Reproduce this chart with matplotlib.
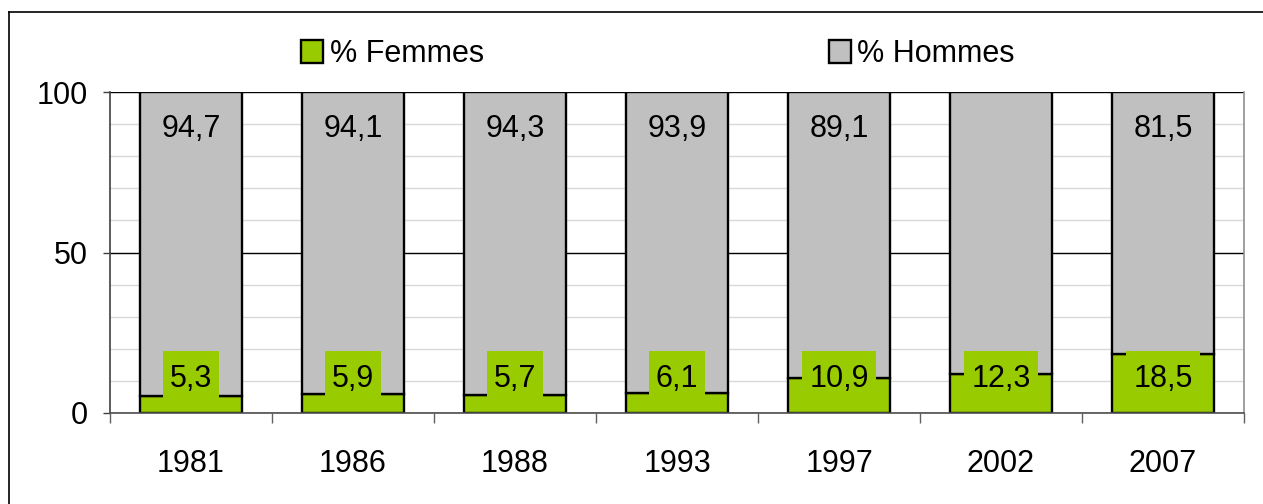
import numpy as np
import matplotlib
matplotlib.use("Agg")
import matplotlib.pyplot as plt
from matplotlib.lines import Line2D
from matplotlib.patches import Rectangle

# données
annees = ["1981", "1986", "1988", "1993", "1997", "2002", "2007"]
femmes = [5.3, 5.9, 5.7, 6.1, 10.9, 12.3, 18.5]
hommes = [94.7, 94.1, 94.3, 93.9, 89.1, 87.7, 81.5]
lab_femmes = ["5,3", "5,9", "5,7", "6,1", "10,9", "12,3", "18,5"]
lab_hommes = ["94,7", "94,1", "94,3", "93,9", "89,1", None, "81,5"]

VERT = "#99CC00"
GRIS = "#C0C0C0"

plt.rcParams["font.family"] = ["Liberation Sans", "DejaVu Sans"]
plt.rcParams["font.size"] = 22

fig = plt.figure(figsize=(12.63, 5.04), dpi=100)
W, H = 1263, 504
ax = fig.add_axes([110 / W, 1 - 413 / H, (1244 - 110) / W, (413 - 92) / H])

x = np.arange(len(annees))
b1 = ax.bar(x, femmes, width=0.63, color=VERT, edgecolor="black", linewidth=1.7,
            label="% Femmes", zorder=2)
b2 = ax.bar(x, hommes, width=0.63, bottom=femmes, color=GRIS, edgecolor="black",
            linewidth=1.7, label="% Hommes", zorder=2)

ax.set_xlim(-0.5, len(annees) - 0.5)
ax.set_ylim(0, 100)

# axes
ax.set_yticks([0, 50, 100])
ax.set_yticks(np.arange(10, 100, 10), minor=True)
ax.grid(True, which="major", axis="y", color="black", linewidth=1.0, zorder=0)
ax.grid(True, which="minor", axis="y", color="#d9d9d9", linewidth=1.0, zorder=0)
ax.tick_params(axis="y", which="major", length=5, width=1, color="#404040", pad=11)
ax.tick_params(axis="y", which="minor", length=0)

ax.set_xticks(x)
ax.set_xticklabels(annees)
ax.set_xticks(np.arange(-0.5, len(annees)), minor=True)
ax.tick_params(axis="x", which="major", length=0, pad=26)
ax.tick_params(axis="x", which="minor", length=7.5, width=1, color="#606060")
ax.set_axisbelow(True)

ax.spines["top"].set_visible(False)
ax.spines["right"].set_color("#909090")
ax.spines["left"].set_color("#404040")
ax.spines["bottom"].set_color("#505050")
for s in ["left", "bottom", "right"]:
    ax.spines[s].set_linewidth(1.2)

# étiquettes
for i, t in enumerate(lab_hommes):
    if t is not None:
        ax.text(x[i], 86.1, t, ha="center", va="baseline", zorder=5)

txt_f = []
for i, t in enumerate(lab_femmes):
    txt_f.append(ax.text(x[i], 8.2, t, ha="center", va="baseline", zorder=5))

# fond vert derrière les étiquettes des femmes
fig.canvas.draw()
rend = fig.canvas.get_renderer()
inv = ax.transData.inverted()
for t in txt_f:
    bb = t.get_window_extent(rend)
    x0 = inv.transform((bb.x0 - 7, 0))[0]
    x1 = inv.transform((bb.x1 + 7, 0))[0]
    ax.add_patch(Rectangle((x0, 3.6), x1 - x0, 19.3 - 3.6, facecolor=VERT,
                           edgecolor="none", zorder=4))

fig.legend(handles=[b1, b2], loc="center", bbox_to_anchor=(658 / W, 1 - 54 / H),
           ncol=2, frameon=False, handlelength=0.72, handleheight=0.82,
           handletextpad=0.2, columnspacing=11.3, borderpad=0, fontsize=22)

# cadre du graphique (coupé à droite et en bas)
fig.add_artist(Line2D([9 / W, 9 / W], [0, 1 - 12 / H], color="black", lw=1.2,
                      transform=fig.transFigure))
fig.add_artist(Line2D([9 / W, 1], [1 - 12 / H, 1 - 12 / H], color="black", lw=1.2,
                      transform=fig.transFigure))

fig.savefig("out.png", dpi=100)
